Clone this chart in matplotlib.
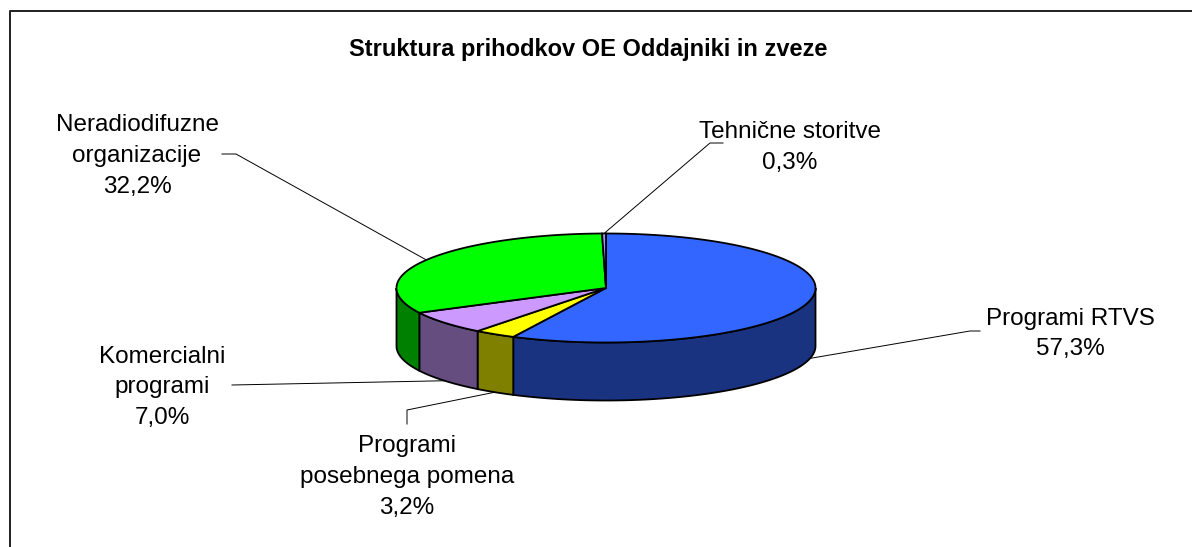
import numpy as np
import matplotlib

matplotlib.use('Agg')
import matplotlib.pyplot as plt
from matplotlib.patches import Polygon
from matplotlib.lines import Line2D

plt.rcParams['font.family'] = ['Liberation Sans', 'DejaVu Sans']

# Chart data (clockwise from 12 o'clock)
categories = ['Programi RTVS', 'Programi\nposebnega pomena', 'Komercialni\nprogrami',
              'Neradiodifuzne\norganizacije', 'Tehnične storitve']
shares = [57.3, 3.2, 7.0, 32.2, 0.3]
top_colors = ['#3366FF', '#FFFF00', '#CC99FF', '#00FF00', '#9999FF']
title = 'Struktura prihodkov OE Oddajniki in zveze'

# Layout (pixel coordinates, y grows downward)
W, H = 1192, 547
cx, cy, rx, ry, depth = 606, 288, 209.5, 54.5, 58
label_x = [1070, 407, 162, 137, 790]
label_baselines = [[325, 355], [452, 483, 514], [363, 393, 424], [131, 162, 193], [138, 169]]
leader_pts = [[(980, 331), (970, 331)], [(407, 424), (407, 410)], [(232, 385)],
              [(222, 154), (236, 154)], [(723, 143), (710, 143)]]


def darker(hexcol):
    r, g, b = matplotlib.colors.to_rgb(hexcol)
    return (r * 0.5, g * 0.5, b * 0.5)


def ell(t, dy=0.0):
    # point on the top ellipse (or shifted down by dy) at parametric angle t
    return cx + rx * np.cos(np.radians(t)), cy - ry * np.sin(np.radians(t)) + dy


fig = plt.figure(figsize=(W / 100, H / 100), dpi=100)
ax = fig.add_axes([0, 0, 1, 1])
ax.set_xlim(0, W)
ax.set_ylim(H, 0)
ax.axis('off')

# Outer frame (right and bottom edges fall outside the picture)
ax.add_line(Line2D([10, 10, W + 5], [H + 5, 11, 11], color='#202020', lw=1.4))

# Slice angles, clockwise starting at the top
cum = np.concatenate([[0], np.cumsum(shares)]) / np.sum(shares)
starts = 90 - 360 * cum[:-1]
ends = 90 - 360 * cum[1:]

# Side walls (front half only: angles between -180 and 0)
for s, e, col in zip(starts, ends, top_colors):
    lo, hi = max(e, -180), min(s, 0)
    if hi <= lo:
        continue
    t = np.linspace(lo, hi, 80)
    xt, yt = ell(t)
    xb, yb = ell(t[::-1], depth)
    pts = np.column_stack([np.concatenate([xt, xb]), np.concatenate([yt, yb])])
    ax.add_patch(Polygon(pts, closed=True, facecolor=darker(col), edgecolor='black', lw=1.3))

# Top faces
for s, e, col in zip(starts, ends, top_colors):
    t = np.linspace(s, e, max(int(abs(s - e)) * 2, 4))
    xt, yt = ell(t)
    pts = np.column_stack([np.concatenate([[cx], xt]), np.concatenate([[cy], yt])])
    ax.add_patch(Polygon(pts, closed=True, facecolor=col, edgecolor='black', lw=1.3))

# Title
ax.text(588, 56, title, ha='center', va='baseline', fontsize=17, fontweight='bold')

# Labels and leader lines
for i, (cat, val) in enumerate(zip(categories, shares)):
    lines = cat.split('\n') + [f'{val:.1f}'.replace('.', ',') + '%']
    for txt, yb in zip(lines, label_baselines[i]):
        ax.text(label_x[i], yb, txt, ha='center', va='baseline', fontsize=17.5)

    # leader ends on the bottom rim for front slices, top rim for back ones
    mid = (starts[i] + ends[i]) / 2
    front = -180 < mid < 0
    axp, ayp = ell(mid, depth if front else 0)
    xs = [p[0] for p in leader_pts[i]] + [axp]
    ys = [p[1] for p in leader_pts[i]] + [ayp]
    ax.add_line(Line2D(xs, ys, color='black', lw=0.7))

fig.savefig('out.png', dpi=100, facecolor='white')
